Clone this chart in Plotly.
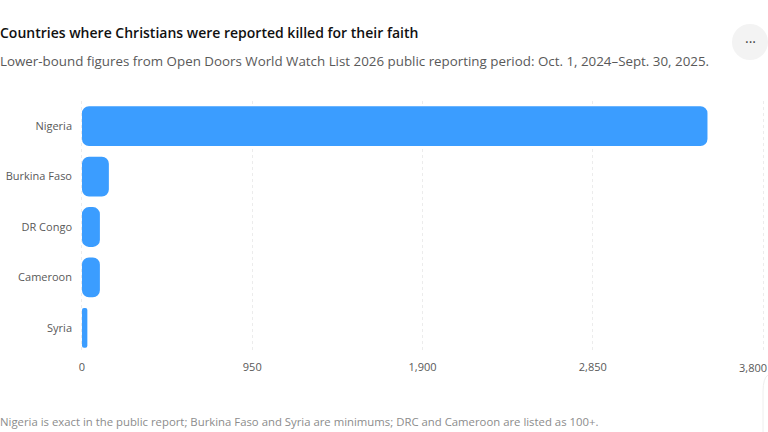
import plotly.graph_objects as go

countries = ["Nigeria", "Burkina Faso", "DR Congo", "Cameroon", "Syria"]
killed = [3490, 150, 100, 100, 30]
tick_vals = [0, 950, 1900, 2850, 3800]
tick_text = ["0", "950", "1,900", "2,850", ""]  # the last label is placed by hand, it would not fit centred

W, H = 768, 432
L, R, T, B = 80, 3, 101, 79
FONT = "Open Sans"
BAR_COLOR = "#3b9dff"

def px(x):
    return (x - L) / (W - L - R)

def py(y):
    return (H - B - y) / (H - T - B)

# an explicit base makes plotly round both ends of the bar
fig = go.Figure(go.Bar(
    x=killed,
    base=[0] * len(killed),
    y=countries,
    orientation="h",
    marker=dict(color=BAR_COLOR, line=dict(width=0), cornerradius=7),
    hovertemplate="%{y}: %{x}<extra></extra>",
))

fig.update_layout(
    width=W,
    height=H,
    margin=dict(l=L, r=R, t=T, b=B, pad=0),
    paper_bgcolor="white",
    plot_bgcolor="white",
    font=dict(family=FONT, color="#595959", size=11),
    showlegend=False,
    bargap=0.21,
)

fig.update_xaxes(
    range=[-11, 3811],  # small overhang so plotly keeps the gridlines at 0 and 3,800
    tickvals=tick_vals,
    ticktext=tick_text,
    showgrid=True,
    griddash="3px,3px",
    gridcolor="#ececec",
    gridwidth=1,
    zeroline=False,
    showline=False,
    ticks="",
    ticklabelstandoff=6,
    tickfont=dict(size=11, color="#595959"),
)
fig.update_yaxes(
    autorange="reversed",
    showgrid=False,
    zeroline=False,
    showline=False,
    ticks="",
    ticklabelstandoff=7,
    tickfont=dict(size=11, color="#595959"),
)

fig.add_annotation(text="3,800", xref="paper", yref="paper", x=px(767), y=py(367.5), xanchor="right", yanchor="middle",
                   xshift=2, showarrow=False, font=dict(size=11, color="#595959", family=FONT))

# heading, note and the menu button sit outside the plot
fig.add_annotation(text="Countries where Christians were reported killed for their faith",
                   xref="paper", yref="paper", x=px(0), y=py(32), xanchor="left", yanchor="middle", xshift=-2,
                   showarrow=False, font=dict(size=14, color="#111111", family=FONT, weight=600))
fig.add_annotation(text="Lower-bound figures from Open Doors World Watch List 2026 public reporting period: Oct. 1, 2024–Sept. 30, 2025.",
                   xref="paper", yref="paper", x=px(0), y=py(61), xanchor="left", yanchor="middle", xshift=-2,
                   showarrow=False, font=dict(size=13.35, color="#595959", family=FONT))
fig.add_annotation(text="Nigeria is exact in the public report; Burkina Faso and Syria are minimums; DRC and Cameroon are listed as 100+.",
                   xref="paper", yref="paper", x=px(0), y=py(421), xanchor="left", yanchor="middle", xshift=-2,
                   showarrow=False, font=dict(size=11.35, color="#8c8c8c", family=FONT))

fig.add_shape(type="circle", xref="paper", yref="paper", x0=px(732), x1=px(768), y0=py(24), y1=py(60),
              fillcolor="#f3f3f3", line=dict(width=0), layer="below")
fig.add_annotation(text="···", xref="paper", yref="paper", x=px(750), y=py(42), xanchor="center", yanchor="middle",
                   showarrow=False, font=dict(size=14, color="#444444", family=FONT))

fig.add_shape(type="path", xref="paper", yref="paper",
              path=f"M {px(768)} {py(375)} Q {px(763)} {py(378)} {px(763)} {py(392)} L {px(763)} {py(432)}",
              line=dict(color="#eeeeee", width=1))

fig.write_html("out.html", config=dict(displayModeBar=False), post_script="document.body.style.margin = '0';")
